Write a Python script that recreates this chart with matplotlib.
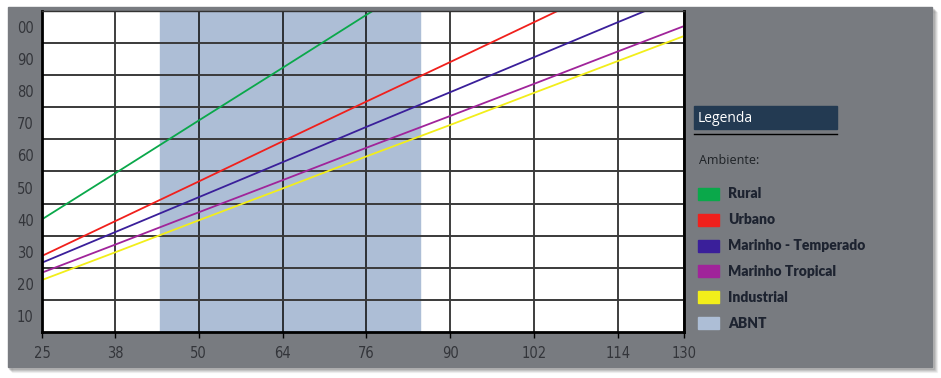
import numpy as np
import matplotlib
matplotlib.use("Agg")
import matplotlib.pyplot as plt
from matplotlib.patches import Rectangle

# eixo x (valores e rotulos)
x_valores = [25, 38, 50, 64, 76, 90, 102, 114, 130]
x_rotulos = ["25", "38", "50", "64", "76", "90", "102", "114", "130"]
# eixo y
y_valores = [10, 20, 30, 40, 50, 60, 70, 80, 90, 100]
y_rotulos = ["10", "20", "30", "40", "50", "60", "70", "80", "90", "00"]

rural = [40.1, 54.4, 70.9, 87.3, 103.8, 120.0]
urbano = [28.7, 39.5, 51.9, 64.4, 76.8, 89.1, 101.5, 114.0]
marinho_temperado = [26.6, 36.1, 47.0, 57.9, 68.9, 79.7, 90.6, 101.5, 110.0]
marinho_tropical = [23.5, 32.2, 42.3, 52.3, 62.4, 72.3, 82.3, 92.4, 100.3]
industrial = [21.2, 29.8, 39.8, 49.7, 59.7, 69.5, 79.5, 89.4, 97.2]
abnt = (44.5, 85)

series = [
    ("Rural", rural, "#0aa84a"),
    ("Urbano", urbano, "#f0201c"),
    ("Marinho - Temperado", marinho_temperado, "#3a1f9a"),
    ("Marinho Tropical", marinho_tropical, "#a0249a"),
    ("Industrial", industrial, "#f2ee1a"),
]
cor_abnt = "#adbed6"

W, H = 941, 378
fig = plt.figure(figsize=(W / 100, H / 100), dpi=100)
fig.patch.set_facecolor("white")

def fx(px):
    return px / W

def fy(py):
    return 1 - py / H

# sombra e painel cinza
for k, a in enumerate([0.10, 0.08, 0.06, 0.04]):
    fig.patches.append(Rectangle((fx(8 + k + 1), fy(367 + k + 2)), fx(925), 360 / H,
                                 transform=fig.transFigure, color="black", alpha=a, zorder=-3))
fig.patches.append(Rectangle((fx(8), fy(367)), fx(924), 360 / H,
                             transform=fig.transFigure, color="#787b80", zorder=-2))

ax = fig.add_axes([fx(42), fy(332), fx(684 - 42), (332 - 11) / H])
ax.set_facecolor("white")

# escala do eixo x: ticks igualmente espacados (exceto extremos)
pos = [0.129, 1, 2, 3, 4, 5, 6, 7, 7.79]
ida = lambda v: np.interp(v, x_valores, pos)
volta = lambda p: np.interp(p, pos, x_valores)
ax.set_xscale("function", functions=(ida, volta))

ax.axvspan(abnt[0], abnt[1], color=cor_abnt, zorder=1)
for nome, vals, cor in series:
    ax.plot(x_valores[:len(vals)], vals, color=cor, lw=1.3, zorder=2)

ax.set_xlim(25, 130)
ax.set_ylim(5, 105)
ax.set_xticks(x_valores)
ax.set_xticklabels(x_rotulos)
ax.set_yticks(y_valores)
ax.set_yticklabels(y_rotulos)
ax.set_yticks(np.arange(15, 100, 10), minor=True)
ax.grid(axis="x", which="major", color="#0a0a0a", lw=1.1)
ax.grid(axis="y", which="minor", color="#3a3a3a", lw=1.4)
ax.tick_params(axis="x", which="major", length=4, width=1, color="black", pad=6)
ax.tick_params(axis="y", which="both", length=0, pad=6)
for t in ax.get_xticklabels() + ax.get_yticklabels():
    t.set_family("DejaVu Sans")
    t.set_fontstretch("condensed")
    t.set_fontweight("light")
    t.set_fontsize(10.5)
    t.set_color("#33353a")
for lado in ["left", "bottom", "right"]:
    ax.spines[lado].set_linewidth(2)
    ax.spines[lado].set_color("black")
ax.spines["top"].set_linewidth(1)
ax.spines["top"].set_color("#333333")

# legenda
fig.patches.append(Rectangle((fx(694), fy(129)), fx(837 - 694), 23 / H,
                             transform=fig.transFigure, color="#233a52", zorder=1))
fig.lines.append(plt.Line2D([fx(694), fx(837)], [fy(134), fy(134)],
                            transform=fig.transFigure, color="black", lw=1))
fig.text(fx(698), fy(118), "Legenda", color="white", fontsize=10,
         family=["Open Sans", "DejaVu Sans"], va="center", ha="left")
fig.text(fx(699), fy(160), "Ambiente:", color="#1e2226", fontsize=9,
         family=["Open Sans", "DejaVu Sans"], va="center", ha="left")

itens = [(n, c) for n, _, c in series] + [("ABNT", cor_abnt)]
for i, (nome, cor) in enumerate(itens):
    yc = 194 + i * 25.8
    fig.patches.append(Rectangle((fx(698), fy(yc + 6)), fx(21), 12 / H,
                                 transform=fig.transFigure, color=cor, zorder=1))
    fig.text(fx(728), fy(yc), nome, color="#1d2330", fontsize=10, fontweight="heavy",
             family=["Lato", "DejaVu Sans"], va="center", ha="left")

fig.savefig("out.png", dpi=100)
